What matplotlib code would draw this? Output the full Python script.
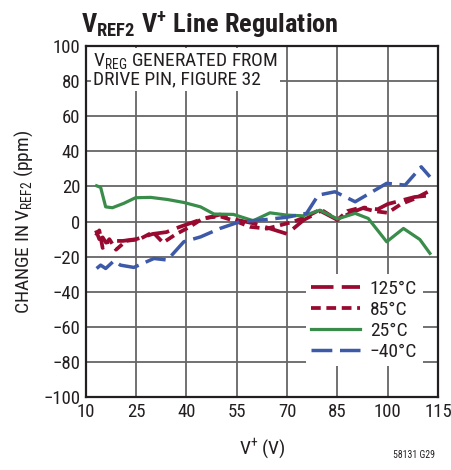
"""
VREF2 V+ line regulation curve, typical-performance style.
"""
import matplotlib
matplotlib.use("Agg")
import matplotlib.pyplot as plt
from matplotlib import font_manager

# pick the narrowest sans available
names = {f.name for f in font_manager.fontManager.ttflist}
NARROW = next((n for n in ["Liberation Sans Narrow", "DejaVu Sans Condensed", "Roboto Condensed", "Roboto"]
               if n in names), "DejaVu Sans")
plt.rcParams["font.family"] = [NARROW, "DejaVu Sans"]
plt.rcParams["mathtext.fontset"] = "custom"
plt.rcParams["mathtext.rm"] = NARROW
plt.rcParams["mathtext.bf"] = NARROW + ":bold"
plt.rcParams["mathtext.it"] = NARROW

RED, GREEN, BLUE, GRID, TXT = "#990a30", "#3a8c4a", "#3c5aa8", "#666666", "#231f20"

# --- data ---
v_125 = [13, 14, 15, 16, 18, 21, 25, 30, 34, 38, 44, 50, 55, 60, 65, 70, 75, 80, 85, 89, 93, 97, 100, 104, 108, 113]
ppm_125 = [-5, -10, -9, -12, -11, -11, -10, -7, -6, -3, 1, 4, 1, -1, -4, -7, 1, 6, 1, 5, 8, 7, 10, 12, 14, 15]

v_85 = [13, 14, 15, 17, 19, 22, 26, 30, 33, 37, 41, 45, 50, 55, 59, 64, 68, 72, 76, 80, 85, 88, 92, 96, 100, 104, 108, 112]
ppm_85 = [-8, -5, -15, -10, -16, -11, -10, -6, -12, -7, -3, 2, 3, 0, -3, -4, -2, 0, 3, 7, 1, 6, 8, 6, 5, 10, 13, 17]

v_25 = [13.2, 14.4, 15.9, 17.9, 21.3, 24.8, 29.3, 34.3, 39.2, 44.2, 48.2, 54, 59.9, 64.9, 69.9, 74.8, 79.8, 85, 90.3, 94.2, 99.7, 104.7, 109.6, 112.6]
ppm_25 = [20.4, 19.5, 8.4, 7.9, 10.4, 13.6, 13.8, 12.6, 10.9, 8.4, 4.3, 4.1, 0.5, 5.0, 3.7, 3.3, 6.5, 1.5, 4.7, 1.8, -11.5, -3.9, -10.2, -18.1]

v_m40 = [13.2, 14.4, 15.9, 18.4, 20.3, 24.3, 30.3, 34.3, 39.2, 44.2, 50, 56, 63.9, 70, 75.8, 79.3, 84.3, 90.3, 99.7, 105.2, 110, 112.6]
ppm_m40 = [-26.7, -24.8, -26.7, -22.3, -24.8, -26.1, -21, -21.9, -11.5, -8.7, -3.9, 0, 1.2, 2.5, 4.7, 15.1, 17, 11.3, 21.8, 20.8, 31.2, 25.5]

xticks = [10, 25, 40, 55, 70, 85, 100, 115]
yticks = list(range(-100, 101, 20))

fig = plt.figure(figsize=(4.52, 4.70), dpi=100)
ax = fig.add_axes([0.190, 0.155, 0.779, 0.747])

ax.plot(v_125, ppm_125, color=RED, lw=2.7, dashes=(6, 2.2), label="125°C", zorder=3)
ax.plot(v_85, ppm_85, color=RED, lw=2.7, dashes=(2.6, 1.5), label="85°C", zorder=3)
ax.plot(v_25, ppm_25, color=GREEN, lw=2.3, label="25°C", zorder=3)
ax.plot(v_m40, ppm_m40, color=BLUE, lw=2.5, dashes=(6, 2.2), label="\u221240°C", zorder=3)

ax.set_xlim(10, 115); ax.set_ylim(-100, 100)
ax.set_xticks(xticks); ax.set_yticks(yticks)
ax.set_yticklabels([str(t).replace("-", "\u2212") for t in yticks])
ax.tick_params(length=0, labelsize=13.5, colors=TXT, pad=4)
ax.grid(True, color=GRID, lw=1.3, zorder=1)
for s in ax.spines.values():
    s.set_linewidth(1.6); s.set_color(TXT)

ax.set_xlabel(r"V$^{+}$ (V)", fontsize=14, color=TXT, labelpad=11)
ax.set_ylabel(r"CHANGE IN V$_{\mathrm{REF2}}$ (ppm)", fontsize=14, color=TXT, labelpad=6)

ax.text(0.02, 0.985, "V$_{\\mathrm{REG}}$ GENERATED FROM\nDRIVE PIN, FIGURE 32", transform=ax.transAxes,
        ha="left", va="top", fontsize=14, color=TXT, linespacing=0.95,
        bbox=dict(facecolor="white", edgecolor="none", pad=1.5), zorder=4)

leg = ax.legend(loc="lower right", bbox_to_anchor=(0.985, 0.06), fontsize=14, frameon=True,
                handlelength=2.5, handletextpad=0.5, labelspacing=0.15, borderpad=0.3)
leg.get_frame().set_edgecolor("none"); leg.get_frame().set_facecolor("white"); leg.get_frame().set_alpha(1)
for t in leg.get_texts():
    t.set_color(TXT)

fig.text(0.18, 0.978, r"$\mathbf{V_{REF2}\ V^{+}\ Line\ Regulation}$", fontsize=19, color=TXT, ha="left", va="top")
fig.text(0.917, 0.022, "58131 G29", fontsize=7, color=TXT, ha="center", va="bottom")

plt.savefig("out.png", dpi=100)
